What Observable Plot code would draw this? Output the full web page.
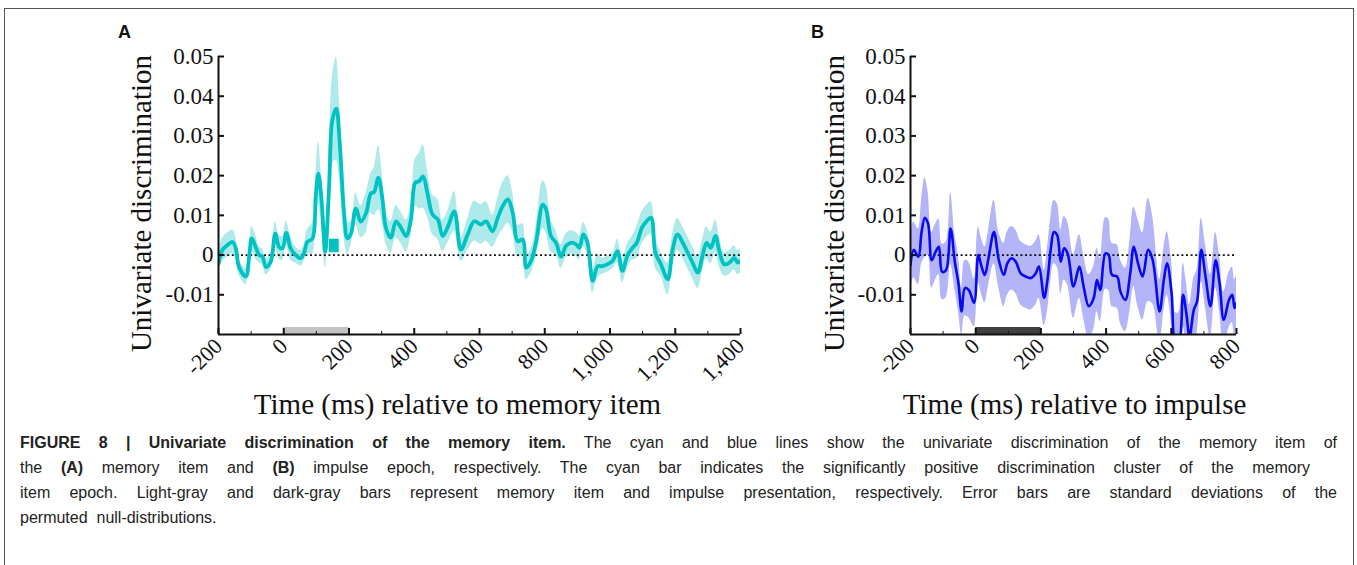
<!DOCTYPE html>
<html><head><meta charset="utf-8">
<script src="https://cdn.jsdelivr.net/npm/d3@7"></script>
<script src="https://cdn.jsdelivr.net/npm/@observablehq/plot@0.6"></script>
<style>
body{margin:0;background:#fff;}
#fig{position:relative;width:1357px;height:565px;overflow:hidden;background:#fff;}
#border{position:absolute;left:4px;top:8px;width:1348px;height:600px;border:1px solid #555;}
.panel{position:absolute;top:0;}
.letter{position:absolute;font:bold 18px "Liberation Sans",Arial,sans-serif;color:#111;}
#caption{position:absolute;left:20px;top:430px;width:1317px;font:16px "Liberation Sans",Arial,sans-serif;line-height:25px;color:#222;}
.jl{text-align:justify;text-align-last:justify;}
</style></head>
<body>
<div id="fig">
  <div id="border"></div>
  <div id="panelA" class="panel" style="left:0px"></div>
  <div id="panelB" class="panel" style="left:760px"></div>
  <div class="letter" style="left:118px;top:22px">A</div>
  <div class="letter" style="left:811px;top:22px">B</div>
  <div id="caption">
    <div class="jl"><b>FIGURE 8 | Univariate discrimination of the memory item.</b> The cyan and blue lines show the univariate discrimination of the memory item of</div>
    <div class="jl" style="width:1290px">the <b>(A)</b> memory item and <b>(B)</b> impulse epoch, respectively. The cyan bar indicates the significantly positive discrimination cluster of the memory</div>
    <div class="jl">item epoch. Light-gray and dark-gray bars represent memory item and impulse presentation, respectively. Error bars are standard deviations of the</div>
    <div>permuted&nbsp; null-distributions.</div>
  </div>
</div>
<script>
// ---------- Data ----------
const yTicks = [-0.01, 0, 0.01, 0.02, 0.03, 0.04, 0.05];
const yTickLabels = ["-0.01", "0", "0.01", "0.02", "0.03", "0.04", "0.05"];
const yTitle = "Univariate discrimination";

// Panel A: memory item epoch
const aTime = [-200,-188,-173,-157,-147,-137,-116,-106,-98,-86,-75,-65,-55,-40,-26,-14,-4,8,21,37,52,62,72,88,98,106,116,127,139,149,161,171,185,195,206,221,236,252,267,277,290,303,313,328,344,359,375,390,403,415,427,440,456,472,487,502,523,543,564,584,604,620,640,656,671,687,702,717,733,743,758,773,794,804,819,835,850,865,880,896,906,918,931,947,962,977,992,1008,1023,1038,1054,1069,1082,1098,1112,1126,1139,1156,1177,1192,1207,1223,1238,1253,1269,1284,1296,1309,1323,1335,1350,1366,1381,1391,1400];
const aMean = [-0.0021,0.0013,0.0025,0.0033,0.0017,-0.003,-0.0054,-0.0004,0.0042,0.002,0.0,-0.0004,-0.003,-0.0017,0.0054,0.002,0.0017,0.0056,0.0017,0.0,-0.0008,0.0004,0.0033,0.0042,0.0147,0.0205,0.0138,0.0008,0.0172,0.034,0.0369,0.0289,0.0105,0.0042,0.0054,0.0117,0.0084,0.0105,0.0155,0.0159,0.0195,0.0138,0.0069,0.0044,0.0085,0.0069,0.0048,0.009,0.0182,0.0186,0.0198,0.0157,0.0102,0.009,0.0048,0.0069,0.011,0.0014,0.0052,0.0085,0.0077,0.0085,0.006,0.0094,0.0123,0.014,0.0106,0.0035,0.0039,-0.0032,-0.0015,0.0031,0.0127,0.0115,0.0048,0.003,-0.0004,0.0023,0.0031,0.0027,0.0018,0.0052,0.0031,-0.0065,-0.0028,-0.0028,-0.0023,-0.0015,0.001,-0.004,0.0,0.0018,0.0031,0.0069,0.0085,0.0094,0.0006,-0.0023,-0.0061,0.0014,0.0052,0.0031,0.0006,-0.0019,-0.0044,0.0,0.0031,0.0018,0.0048,0.001,-0.0023,-0.0019,-0.0007,-0.0019,-0.0015];
const aSD = [0.002,0.003,0.003,0.003,0.003,0.002,0.002,0.002,0.003,0.003,0.002,0.002,0.002,0.002,0.003,0.003,0.003,0.003,0.003,0.002,0.002,0.002,0.003,0.004,0.005,0.008,0.006,0.004,0.008,0.011,0.013,0.01,0.006,0.004,0.003,0.004,0.004,0.005,0.005,0.006,0.008,0.006,0.004,0.004,0.004,0.004,0.004,0.004,0.006,0.007,0.008,0.006,0.005,0.005,0.004,0.004,0.005,0.003,0.004,0.005,0.005,0.005,0.004,0.005,0.006,0.006,0.005,0.004,0.004,0.003,0.003,0.004,0.006,0.006,0.004,0.003,0.003,0.003,0.003,0.003,0.003,0.003,0.003,0.003,0.003,0.002,0.002,0.002,0.003,0.003,0.003,0.003,0.004,0.004,0.004,0.004,0.004,0.003,0.004,0.004,0.004,0.004,0.004,0.004,0.004,0.004,0.004,0.004,0.004,0.004,0.003,0.003,0.003,0.003,0.003];
const aTicks = [-200, 0, 200, 400, 600, 800, 1000, 1200, 1400];
const aTickLabels = ["-200", "0", "200", "400", "600", "800", "1,000", "1,200", "1,400"];
const aMinorTicks = [-100, 100, 300, 500, 700, 900, 1100, 1300];
const aStimulus = [{start: 0, end: 200}];        // memory item presentation
const aCluster = [{start: 140, end: 170}];       // significant cluster
const aTitle = "Time (ms) relative to memory item";

// Panel B: impulse epoch
const bTime = [-200,-190,-176,-166,-156,-146,-135,-123,-113,-103,-91,-77,-64,-53,-43,-33,-21,-5,8,18,28,40,56,71,86,97,110,123,138,153,169,184,194,210,220,230,240,250,261,271,282,300,318,331,347,362,372,382,398,408,418,434,444,459,474,485,498,512,529,543,564,577,587,601,613,623,636,646,656,669,679,692,705,720,736,748,761,777,787,794,800];
const bMean = [-0.0025,0.0013,-0.0004,0.0058,0.0094,0.0079,-0.0013,0.0008,0.0021,-0.0042,-0.0038,0.0067,-0.0017,-0.0071,-0.0142,-0.0083,-0.0088,-0.012,0.0,-0.0029,-0.005,-0.0004,0.0058,-0.0013,-0.005,-0.0021,-0.0008,-0.0017,-0.0046,-0.0054,-0.0058,-0.0046,-0.0029,-0.0108,-0.0063,0.0013,0.0058,0.005,-0.0017,0.0017,0.0004,-0.0079,-0.0029,-0.0079,-0.0129,-0.0108,-0.0063,-0.0088,0.0004,0.0,-0.005,-0.0054,-0.0092,-0.0113,-0.0046,0.0021,-0.0021,-0.0054,0.0013,-0.0013,-0.0142,-0.0063,-0.0021,-0.0096,-0.0225,-0.0225,-0.01,-0.0146,-0.0205,-0.0138,-0.0117,0.0013,-0.0054,-0.0129,-0.0013,-0.0071,-0.0163,-0.0113,-0.01,-0.0133,-0.0121];
const bSD = [0.007,0.007,0.007,0.008,0.01,0.008,0.007,0.007,0.007,0.007,0.007,0.009,0.007,0.007,0.006,0.007,0.007,0.006,0.007,0.007,0.007,0.007,0.008,0.007,0.008,0.008,0.008,0.008,0.008,0.008,0.008,0.008,0.008,0.007,0.008,0.008,0.008,0.008,0.008,0.008,0.008,0.008,0.008,0.008,0.008,0.008,0.008,0.008,0.009,0.009,0.008,0.008,0.008,0.008,0.009,0.01,0.011,0.011,0.013,0.011,0.008,0.008,0.008,0.008,0.008,0.008,0.008,0.008,0.008,0.008,0.008,0.008,0.008,0.008,0.007,0.007,0.007,0.007,0.007,0.007,0.007];
const bTicks = [-200, 0, 200, 400, 600, 800];
const bTickLabels = ["-200", "0", "200", "400", "600", "800"];
const bMinorTicks = [-100, 100, 300, 500, 700];
const bStimulus = [{start: 0, end: 200}];        // impulse presentation
const bTitle = "Time (ms) relative to impulse";

// ---------- Drawing ----------
const yDomain = [-0.02, 0.05];
const HEIGHT = 420, MT = 56, MB = 86;

function panel(o) {
  const data = o.times.map((t, i) => ({t, m: o.means[i], lo: o.means[i] - o.sds[i], hi: o.means[i] + o.sds[i]}));
  const plotH = HEIGHT - MT - MB, plotW = o.width - o.ml - o.mr;
  const ypx = (yDomain[1] - yDomain[0]) / plotH;     // data units per pixel (y)
  const xpx = (o.xDomain[1] - o.xDomain[0]) / plotW; // data units per pixel (x)
  const y0 = yDomain[0], x0 = o.xDomain[0];
  const marks = [
    Plot.areaY(data, {x: "t", y1: "lo", y2: "hi", fill: o.band, curve: "catmull-rom", clip: true}),
    Plot.ruleY([0], {stroke: "#111", strokeWidth: 1.7, strokeDasharray: "2,2.6"}),
    Plot.lineY(data, {x: "t", y: "m", stroke: o.line, strokeWidth: o.lw, curve: "catmull-rom", clip: true}),
    Plot.rect(o.stim, {x1: "start", x2: "end", y1: y0, y2: y0 + 7 * ypx, fill: o.stimColor}),
  ];
  if (o.cluster) marks.push(Plot.rect(o.cluster, {x1: "start", x2: "end", y1: 0.0006, y2: 0.004, fill: o.line}));
  marks.push(
    // axis lines
    Plot.ruleX([x0], {stroke: "#111", strokeWidth: 2}),
    Plot.ruleY([y0], {stroke: "#111", strokeWidth: 2}),
    // inward ticks
    Plot.ruleX(o.ticks, {x: d => d, y1: y0, y2: y0 + 6 * ypx, stroke: "#111", strokeWidth: 2}),
    Plot.ruleX(o.minor, {x: d => d, y1: y0, y2: y0 + 3 * ypx, stroke: "#111", strokeWidth: 1}),
    Plot.ruleY(yTicks, {y: d => d, x1: x0, x2: x0 + 6 * xpx, stroke: "#111", strokeWidth: 2}),
    // tick labels
    Plot.axisX({ticks: o.ticks, tickFormat: (d, i) => o.tickLabels[o.ticks.indexOf(d)], tickSize: 0, tickPadding: 8, tickRotate: -45, fontSize: 22, label: null}),
    Plot.axisY({ticks: yTicks, tickFormat: d => yTickLabels[yTicks.indexOf(d)], tickSize: 0, tickPadding: 5, fontSize: 23, label: null}),
    // titles
    Plot.text([o.title], {frameAnchor: "bottom", dy: 79, dx: o.titleDx, fontSize: 29, fill: "#111"}),
    Plot.text([yTitle], {frameAnchor: "left", textAnchor: "middle", rotate: -90, dx: o.yTitleDx, dy: 8, fontSize: 29, fill: "#111"})
  );
  return Plot.plot({
    width: o.width, height: HEIGHT,
    marginLeft: o.ml, marginRight: o.mr, marginTop: MT, marginBottom: MB,
    x: {domain: o.xDomain, axis: null},
    y: {domain: yDomain, axis: null},
    style: {fontFamily: "'Liberation Serif', 'Times New Roman', serif", color: "#111", background: "transparent", overflow: "visible"},
    marks
  });
}

document.getElementById("panelA").append(panel({
  times: aTime, means: aMean, sds: aSD, line: "#00c2c2", band: "#aeeaea", lw: 3.8,
  xDomain: [-200, 1400], ticks: aTicks, tickLabels: aTickLabels, minor: aMinorTicks,
  stim: aStimulus, stimColor: "#c3c3c3", cluster: aCluster, title: aTitle, titleDx: -22, yTitleDx: -77,
  width: 760, ml: 218, mr: 20
}));
document.getElementById("panelB").append(panel({
  times: bTime, means: bMean, sds: bSD, line: "#0a0af0", band: "#b4b4f8", lw: 2.6,
  xDomain: [-200, 800], ticks: bTicks, tickLabels: bTickLabels, minor: bMinorTicks,
  stim: bStimulus, stimColor: "#404040", cluster: null, title: bTitle, titleDx: 1, yTitleDx: -76,
  width: 500, ml: 150, mr: 24
}));
</script>
</body></html>
